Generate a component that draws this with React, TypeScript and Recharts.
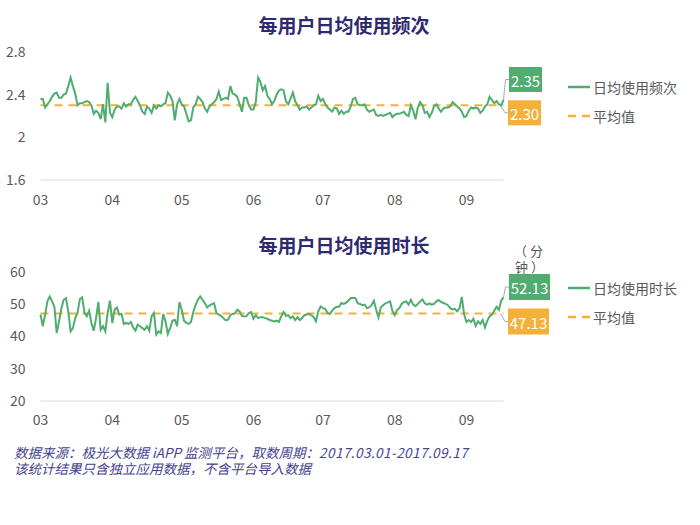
import React from 'react';
import { LineChart, Line, XAxis, YAxis, ReferenceLine } from 'recharts';

// 每用户日均使用频次 (daily, 2017-03-01 .. 2017-09-17)
const freqValues = [
  2.36, 2.36, 2.28, 2.31, 2.34, 2.38, 2.41, 2.42, 2.37, 2.37,
  2.40, 2.41, 2.48, 2.56, 2.48, 2.41, 2.30, 2.32, 2.32, 2.33,
  2.34, 2.33, 2.30, 2.22, 2.25, 2.23, 2.17, 2.31, 2.14, 2.51,
  2.23, 2.19, 2.26, 2.29, 2.29, 2.27, 2.32, 2.29, 2.31, 2.31,
  2.35, 2.38, 2.34, 2.30, 2.24, 2.22, 2.29, 2.27, 2.23, 2.30,
  2.27, 2.30, 2.29, 2.31, 2.32, 2.42, 2.39, 2.34, 2.16, 2.31,
  2.36, 2.31, 2.29, 2.22, 2.15, 2.16, 2.28, 2.31, 2.38, 2.36,
  2.33, 2.27, 2.24, 2.29, 2.31, 2.33, 2.36, 2.43, 2.35, 2.36,
  2.37, 2.36, 2.48, 2.41, 2.40, 2.38, 2.31, 2.24, 2.37, 2.37,
  2.30, 2.26, 2.26, 2.33, 2.56, 2.52, 2.44, 2.48, 2.39, 2.36,
  2.31, 2.34, 2.40, 2.44, 2.45, 2.44, 2.34, 2.31, 2.36, 2.42,
  2.34, 2.30, 2.26, 2.28, 2.28, 2.29, 2.26, 2.28, 2.30, 2.31,
  2.39, 2.34, 2.36, 2.31, 2.28, 2.26, 2.24, 2.28, 2.27, 2.22,
  2.25, 2.22, 2.24, 2.24, 2.29, 2.36, 2.37, 2.31, 2.30, 2.30,
  2.31, 2.26, 2.24, 2.25, 2.26, 2.21, 2.20, 2.21, 2.20, 2.21,
  2.22, 2.23, 2.19, 2.21, 2.22, 2.22, 2.23, 2.24, 2.21, 2.20,
  2.30, 2.25, 2.17, 2.28, 2.33, 2.30, 2.23, 2.24, 2.19, 2.23,
  2.29, 2.31, 2.27, 2.24, 2.27, 2.28, 2.28, 2.29, 2.33, 2.31,
  2.29, 2.27, 2.24, 2.19, 2.20, 2.25, 2.28, 2.27, 2.28, 2.27,
  2.23, 2.25, 2.29, 2.31, 2.38, 2.35, 2.32, 2.34, 2.31, 2.30, 2.35,
];

// 每用户日均使用时长 (分钟)
const durValues = [
  46.8, 43.2, 46.8, 50.9, 52.4, 50.9, 49.2, 41.1, 44.7, 48.6,
  51.4, 51.9, 47.8, 41.6, 42.6, 45.7, 47.4, 51.6, 52.1, 47.3,
  46.3, 48.0, 44.2, 41.8, 45.7, 50.7, 42.1, 43.2, 41.6, 47.3,
  51.1, 44.2, 48.3, 49.0, 46.8, 47.0, 43.9, 44.2, 43.9, 44.5,
  42.8, 41.8, 43.7, 43.2, 42.6, 42.1, 43.2, 41.8, 46.3, 47.3,
  40.6, 41.6, 41.1, 47.0, 44.7, 40.8, 42.6, 44.9, 45.2, 43.2,
  50.7, 48.3, 44.9, 44.2, 43.9, 44.5, 47.6, 49.7, 51.4, 52.4,
  51.4, 50.3, 49.0, 49.6, 50.0, 50.3, 47.3, 46.8, 46.4, 45.7,
  45.0, 45.2, 46.6, 47.0, 47.2, 48.3, 47.8, 46.4, 46.2, 46.3,
  47.3, 47.6, 45.5, 46.6, 45.7, 46.0, 46.0, 45.7, 45.5, 45.1,
  44.9, 44.7, 44.9, 44.5, 46.3, 47.6, 46.4, 46.6, 45.7, 46.2,
  45.1, 46.0, 45.1, 45.7, 46.6, 46.8, 47.0, 46.6, 46.0, 44.7,
  47.8, 49.3, 48.8, 48.6, 47.3, 47.0, 48.0, 48.8, 49.2, 49.2,
  50.4, 50.1, 50.5, 51.1, 51.9, 51.9, 51.9, 50.3, 50.1, 49.7,
  49.9, 48.8, 49.0, 49.7, 51.1, 48.3, 45.9, 49.0, 49.7, 50.3,
  50.6, 50.9, 48.0, 46.6, 48.2, 48.8, 50.1, 50.7, 50.9, 49.9,
  51.4, 49.9, 49.4, 50.1, 50.9, 51.5, 50.3, 49.9, 50.3, 49.9,
  50.1, 50.9, 51.3, 50.7, 50.4, 50.1, 49.7, 48.8, 48.4, 48.6,
  47.8, 48.8, 52.3, 46.8, 44.5, 45.1, 44.5, 45.5, 43.3, 44.7,
  43.9, 45.1, 42.8, 44.9, 46.2, 46.8, 48.0, 49.2, 48.3, 51.1, 52.13,
];

const freqAvg = 2.3;
const durAvg = 47.13;

const monthTickDays = [0, 31, 61, 92, 122, 153, 184];
const monthTickLabels = ['03', '04', '05', '06', '07', '08', '09'];
const freqTicks = [1.6, 2, 2.4, 2.8];
const durTicks = [20, 30, 40, 50, 60];

const freqData = freqValues.map((v, i) => ({ day: i, value: v }));
const durData = durValues.map((v, i) => ({ day: i, value: v }));

const GREEN = '#4fad6f';
const ORANGE = '#f3b13a';
const FONT = "'Noto Sans CJK SC', 'Noto Sans', sans-serif";

const tickFmt = (d: number) => monthTickLabels[monthTickDays.indexOf(d)] ?? '';

function makeEndDot(last: number, offY: number, w: number, h: number) {
  return (p: any) => {
    const { cx, cy, index, value } = p;
    if (index !== last) return <g key={`d${index}`} />;
    const bx = cx + 5.5;
    const by = cy + offY;
    const my = by + h / 2;
    return (
      <g key={`d${index}`}>
        <polyline points={`${cx},${cy} ${cx + 2},${my} ${bx},${my}`} fill="none" stroke="#a9a9a9" strokeWidth={1} />
        <rect x={bx} y={by} width={w} height={h} fill={GREEN} />
        <text x={bx + w / 2} y={my + 1} textAnchor="middle" dominantBaseline="central" fill="#fff" fontSize={15} fontFamily={FONT}>
          {Number(value).toFixed(2)}
        </text>
      </g>
    );
  };
}

function makeAvgLabel(avg: number, w: number, h: number) {
  return (p: any) => {
    const vb = p.viewBox || {};
    const rx = (vb.x ?? 0) + (vb.width ?? 0);
    const ry = vb.y ?? 0;
    const bx = rx + 4.5;
    const by = ry - 5;
    const my = by + h / 2;
    return (
      <g>
        <polyline points={`${rx - 3},${ry} ${rx + 1.5},${my} ${bx},${my}`} fill="none" stroke="#a9a9a9" strokeWidth={1} />
        <rect x={bx} y={by} width={w + 1} height={h} fill={ORANGE} />
        <text x={bx + (w + 1) / 2} y={my + 1} textAnchor="middle" dominantBaseline="central" fill="#fff" fontSize={15} fontFamily={FONT}>
          {avg.toFixed(2)}
        </text>
      </g>
    );
  };
}

function LegendBlock({ top, label }: { top: number; label: string }) {
  return (
    <div style={{ position: 'absolute', left: 567, top, width: 130, fontSize: 14, color: '#595959', lineHeight: '18px' }}>
      <div style={{ display: 'flex', alignItems: 'center', height: 18 }}>
        <svg width={24} height={4} style={{ marginRight: 2 }}>
          <line x1={1} y1={2} x2={23} y2={2} stroke={GREEN} strokeWidth={2.5} />
        </svg>
        <span>{label}</span>
      </div>
      <div style={{ display: 'flex', alignItems: 'center', height: 18, marginTop: 11 }}>
        <svg width={24} height={4} style={{ marginRight: 2 }}>
          <line x1={1} y1={2} x2={23} y2={2} stroke={ORANGE} strokeWidth={2.5} strokeDasharray="8 6" />
        </svg>
        <span>平均值</span>
      </div>
    </div>
  );
}

const axisTick = { fill: '#595959', fontSize: 14 };

export default function App() {
  const last = freqData.length - 1;
  return (
    <div style={{ position: 'absolute', left: 0, top: 0, width: 700, height: 525, background: '#fff', fontFamily: FONT }}>
      <div style={{ position: 'absolute', left: 234, top: 13, width: 220, textAlign: 'center', fontSize: 19, fontWeight: 700, color: '#2d2a6e', lineHeight: '24px' }}>
        每用户日均使用频次
      </div>
      <div style={{ position: 'absolute', left: 0, top: 0 }}>
        <LineChart width={700} height={210} data={freqData} margin={{ top: 52, right: 196.5, bottom: 0, left: 0 }}>
          <XAxis dataKey="day" type="number" domain={[0, 200]} ticks={monthTickDays} tickFormatter={tickFmt}
            axisLine={{ stroke: '#d9d9d9' }} tickLine={false} tick={axisTick} tickMargin={9} height={30} interval={0} />
          <YAxis type="number" domain={[1.6, 2.8]} ticks={freqTicks} axisLine={false} tickLine={false}
            tick={axisTick} width={40.5} tickMargin={9} interval={0} />
          <ReferenceLine y={freqAvg} stroke={ORANGE} strokeWidth={2} strokeDasharray="8 6" label={makeAvgLabel(freqAvg, 32, 25)} />
          <Line type="linear" dataKey="value" stroke={GREEN} strokeWidth={2} dot={makeEndDot(last, -33, 33, 25)} activeDot={false} isAnimationActive={false} />
        </LineChart>
      </div>
      <LegendBlock top={78} label="日均使用频次" />

      <div style={{ position: 'absolute', left: 234, top: 233, width: 220, textAlign: 'center', fontSize: 19, fontWeight: 700, color: '#2d2a6e', lineHeight: '24px' }}>
        每用户日均使用时长
      </div>
      <div style={{ position: 'absolute', left: 511, top: 243, fontSize: 13, color: '#595959', lineHeight: '16px', width: 40 }}>
        <div style={{ paddingLeft: 3, whiteSpace: 'nowrap' }}>（ 分</div>
        <div style={{ whiteSpace: 'nowrap', paddingLeft: 4 }}>钟 ）</div>
      </div>
      <div style={{ position: 'absolute', left: 0, top: 220 }}>
        <LineChart width={700} height={211} data={durData} margin={{ top: 52, right: 196.5, bottom: 0, left: 0 }}>
          <XAxis dataKey="day" type="number" domain={[0, 200]} ticks={monthTickDays} tickFormatter={tickFmt}
            axisLine={{ stroke: '#d9d9d9' }} tickLine={false} tick={axisTick} tickMargin={8} height={30} interval={0} />
          <YAxis type="number" domain={[20, 60]} ticks={durTicks} axisLine={false} tickLine={false}
            tick={axisTick} width={40.5} tickMargin={9} interval={0} />
          <ReferenceLine y={durAvg} stroke={ORANGE} strokeWidth={2} strokeDasharray="8 6" label={makeAvgLabel(durAvg, 40, 26)} />
          <Line type="linear" dataKey="value" stroke={GREEN} strokeWidth={2} dot={makeEndDot(last, -23.4, 41, 26)} activeDot={false} isAnimationActive={false} />
        </LineChart>
      </div>
      <LegendBlock top={279} label="日均使用时长" />

      <div style={{ position: 'absolute', left: 14, top: 443.5, fontSize: 13.5, fontStyle: 'italic', color: '#45438f', lineHeight: '16.5px', whiteSpace: 'nowrap' }}>
        <div>数据来源：极光大数据 iAPP 监测平台，取数周期：<span style={{ letterSpacing: 0.45 }}>2017.03.01-2017.09.17</span></div>
        <div>该统计结果只含独立应用数据，不含平台导入数据</div>
      </div>
    </div>
  );
}
